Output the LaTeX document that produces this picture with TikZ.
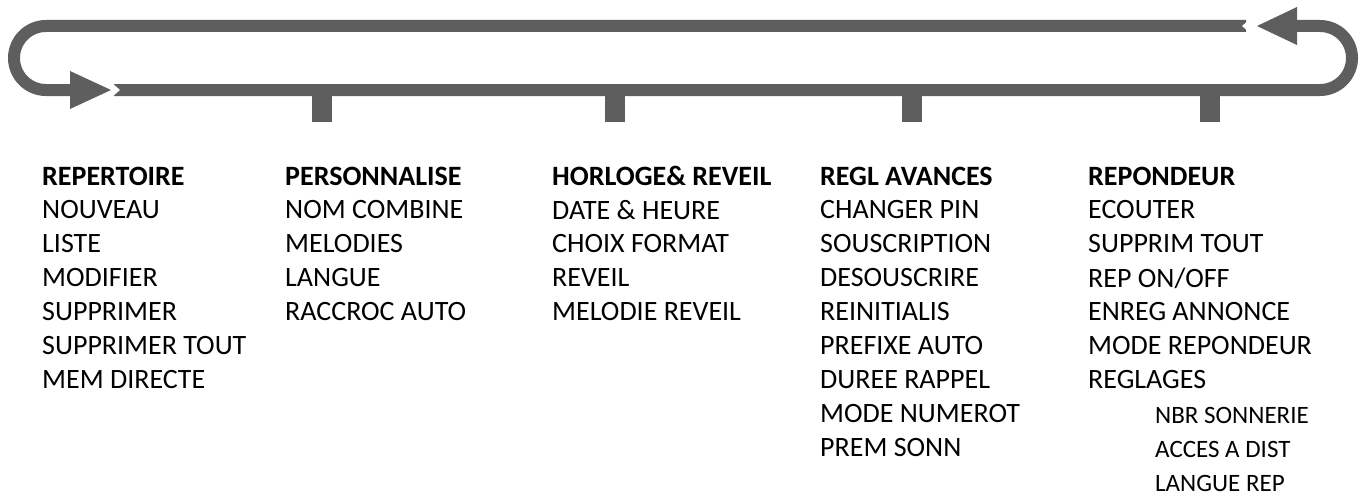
\documentclass[tikz,border=0pt]{standalone}
\usepackage{fontspec}
\setmainfont{Carlito}
\begin{document}
\begin{tikzpicture}[x=1pt,y=-1pt,
  band/.style={draw=barcol,line width=12pt},
  title/.style={anchor=west,font=\fontsize{28}{30}\selectfont\bfseries,inner sep=0pt},
  item/.style={anchor=west,font=\fontsize{28}{30}\selectfont,inner sep=0pt},
  sub/.style={anchor=west,font=\fontsize{25}{27}\selectfont,inner sep=0pt}]
\definecolor{barcol}{HTML}{5E5E5E}
\useasboundingbox (0,0) rectangle (1365,503);
% left loop
\draw[band] (1246,26) -- (46,26) arc[start angle=-90,end angle=-270,radius=32] -- (75,90);
\fill[barcol] (70,71) -- (111,90) -- (70,109) -- cycle;
% right loop
\draw[band] (114,90) -- (1320,90) arc[start angle=90,end angle=-90,radius=32] -- (1292,26);
\fill[barcol] (1297,7) -- (1257,26) -- (1297,45) -- cycle;
% notches
\fill[white] (112,83) -- (120,90) -- (112,97) -- cycle;
\fill[white] (1250,19) -- (1242,26) -- (1250,33) -- cycle;
% stubs
\foreach \x in {322,615,912,1210} \fill[barcol] (\x-10,95) rectangle (\x+10,122);
% columns
\node[title] (t1) at (42,176) {REPERTOIRE};
\foreach \s [count=\i] in {NOUVEAU,LISTE,MODIFIER,SUPPRIMER,SUPPRIMER TOUT,MEM DIRECTE}
  \node[item] (a\i) at (42,176+34*\i) {\s};
\node[title] (t2) at (285,176) {PERSONNALISE};
\foreach \s [count=\i] in {NOM COMBINE,MELODIES,LANGUE,RACCROC AUTO}
  \node[item] (b\i) at (285,176+34*\i) {\s};
\node[title] (t3) at (552,176) {HORLOGE\& REVEIL};
\foreach \s [count=\i] in {DATE \& HEURE,CHOIX FORMAT,REVEIL,MELODIE REVEIL}
  \node[item] (c\i) at (552,176+34*\i) {\s};
\node[title] (t4) at (820,176) {REGL AVANCES};
\foreach \s [count=\i] in {CHANGER PIN,SOUSCRIPTION,DESOUSCRIRE,REINITIALIS,PREFIXE AUTO,DUREE RAPPEL,MODE NUMEROT,PREM SONN}
  \node[item] (d\i) at (820,176+34*\i) {\s};
\node[title] (t5) at (1088,176) {REPONDEUR};
\foreach \s [count=\i] in {ECOUTER,SUPPRIM TOUT,REP ON/OFF,ENREG ANNONCE,MODE REPONDEUR,REGLAGES}
  \node[item] (e\i) at (1088,176+34*\i) {\s};
\foreach \s [count=\i] in {NBR SONNERIE,ACCES A DIST,LANGUE REP}
  \node[sub] (f\i) at (1155,381+34*\i) {\s};
\end{tikzpicture}
\end{document}
